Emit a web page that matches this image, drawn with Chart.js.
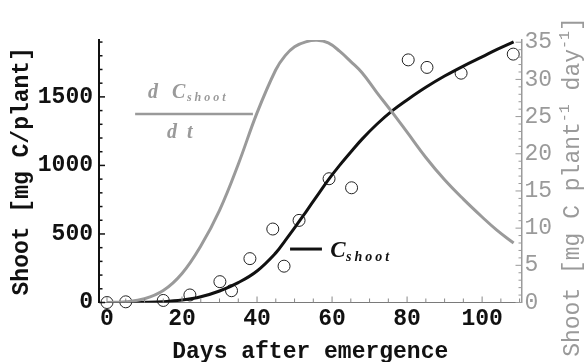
<!DOCTYPE html>
<html>
<head>
<meta charset="utf-8">
<script src="https://cdn.jsdelivr.net/npm/chart.js@4.4.0/dist/chart.umd.min.js"></script>
<style>
  body { margin: 0; background: #fff; }
  #wrap { width: 586px; height: 362px; }
</style>
</head>
<body>
<div id="wrap"><canvas id="shootChart" width="586" height="362"></canvas></div>
<script>
const curveDays = [0, 5, 10, 15, 20, 25, 30, 35, 40, 45, 47.5, 50, 53, 56, 59, 62, 65, 68, 72, 76, 80, 85, 90, 95, 100, 104, 108.4];
// fitted C_shoot, mg C/plant (left axis)
const shootFit = [0, 0.3, 1.5, 6, 18, 42, 84, 145, 230, 362, 452, 545, 660, 778, 895, 1000, 1098, 1192, 1302, 1398, 1478, 1570, 1652, 1725, 1792, 1846, 1901];
// fitted dC_shoot/dt, mg C plant-1 day-1 (right axis)
const growthRate = [0, 0.1, 0.5, 1.6, 3.9, 7.6, 12.4, 18.6, 25.5, 31.3, 33.2, 34.4, 35.05, 35.25, 34.9, 33.8, 32.4, 30.9, 28.2, 25.6, 22.9, 19.5, 16.5, 13.9, 11.5, 9.7, 8.0];
// measured shoot carbon
const obsDays = [0, 5, 15, 22.1, 30.1, 33.2, 38.1, 44.2, 47.2, 51.2, 59.2, 65.2, 80.3, 85.3, 94.4, 108.3];
const obsShoot = [0, 5, 15, 55, 152, 86, 320, 536, 265, 599, 903, 837, 1770, 1715, 1673, 1812];

const dayTicks = [0, 20, 40, 60, 80, 100];
const shootTicks = [0, 500, 1000, 1500];
const rateTicks = [0, 5, 10, 15, 20, 25, 30, 35];

const GRAY = '#9a9a9a';
const INK = '#111';
const MONO = "'Liberation Mono', 'Courier New', monospace";
const SERIF = "'Liberation Serif', 'Times New Roman', serif";

// tick marks point into the plot, with minor ticks between labels
const inwardTicks = {
  id: 'inwardTicks',
  afterDraw(chart) {
    const { ctx: c, chartArea: a, scales: { x, y, y2 } } = chart;
    const seg = (x1, y1, x2, y2_) => { c.beginPath(); c.moveTo(x1, y1); c.lineTo(x2, y2_); c.stroke(); };
    c.save();
    c.strokeStyle = INK; c.lineWidth = 1.5;
    for (let v = 0; v <= 1900; v += 100) {
      const p = y.getPixelForValue(v);
      seg(a.left, p, a.left + (v % 500 === 0 ? 6 : 3.5), p);
    }
    c.strokeStyle = '#888'; c.lineWidth = 1;
    for (let v = 0; v <= 110; v += 5) {
      const p = x.getPixelForValue(v);
      seg(p, a.bottom, p, a.bottom - (v % 20 === 0 ? 6 : 4));
    }
    c.strokeStyle = GRAY;
    for (let v = 0; v <= 35; v += 1) {
      const p = y2.getPixelForValue(v);
      seg(a.right, p, a.right - (v % 5 === 0 ? 6 : 3), p);
    }
    c.restore();
  }
};

// curve labels: the dC/dt fraction and the C_shoot key
const curveLabels = {
  id: 'curveLabels',
  afterDatasetsDraw(chart) {
    const { ctx: c, scales: { x, y } } = chart;
    const px = v => x.getPixelForValue(v);
    const py = v => y.getPixelForValue(v);
    c.save();
    c.textBaseline = 'alphabetic';
    c.textAlign = 'left';

    c.fillStyle = GRAY;
    c.strokeStyle = GRAY;
    c.font = `italic bold 20px ${SERIF}`;
    c.fillText('d', px(10.9), py(1493));
    c.fillText('C', px(17.3), py(1493));
    c.font = `italic bold 12px ${SERIF}`;
    c.letterSpacing = '3px';
    c.fillText('shoot', px(21.3), py(1471));
    c.letterSpacing = '0px';
    c.lineWidth = 2.5;
    c.beginPath(); c.moveTo(px(7.5), py(1376)); c.lineTo(px(38.9), py(1376)); c.stroke();
    c.font = `italic bold 20px ${SERIF}`;
    c.fillText('d', px(16.0), py(1203));
    c.fillText('t', px(21.3), py(1203));

    c.fillStyle = INK;
    c.strokeStyle = INK;
    c.lineWidth = 3;
    c.beginPath(); c.moveTo(px(48.8), py(390)); c.lineTo(px(57.3), py(390)); c.stroke();
    c.font = `italic bold 23px ${SERIF}`;
    c.fillText('C', px(59.5), py(332));
    c.font = `italic bold 14px ${SERIF}`;
    c.letterSpacing = '3px';
    c.fillText('shoot', px(63.7), py(303));
    c.restore();
  }
};

// right axis title reads bottom to top, with superscripts
const rightTitle = {
  id: 'rightTitle',
  afterDraw(chart) {
    const c = chart.ctx;
    const parts = [['Shoot [mg C plant', false], ['-1', true], [' day', false], ['-1', true], [']', false]];
    const base = `23px ${MONO}`, sup = `15px ${MONO}`;
    let total = 0;
    parts.forEach(([t, s]) => { c.font = s ? sup : base; total += c.measureText(t).width; });
    c.save();
    c.translate(chart.width - 13, 187);
    c.rotate(-Math.PI / 2);
    c.fillStyle = GRAY;
    c.textBaseline = 'middle';
    c.textAlign = 'left';
    let cx = -total / 2;
    parts.forEach(([t, s]) => {
      c.font = s ? sup : base;
      c.fillText(t, cx, s ? -8 : 0);
      cx += c.measureText(t).width;
    });
    c.restore();
  }
};

const plain = v => String(v);
const ctx = document.getElementById('shootChart').getContext('2d');

new Chart(ctx, {
  data: {
    datasets: [{
      type: 'line',
      label: 'dC_shoot/dt',
      data: curveDays.map((d, i) => ({ x: d, y: growthRate[i] })),
      yAxisID: 'y2',
      borderColor: GRAY,
      borderWidth: 3,
      pointRadius: 0,
      tension: 0.4,
      fill: false
    }, {
      type: 'line',
      label: 'C_shoot',
      data: curveDays.map((d, i) => ({ x: d, y: shootFit[i] })),
      yAxisID: 'y',
      borderColor: INK,
      borderWidth: 3,
      pointRadius: 0,
      tension: 0.4,
      fill: false
    }, {
      type: 'scatter',
      label: 'measured',
      data: obsDays.map((d, i) => ({ x: d, y: obsShoot[i] })),
      yAxisID: 'y',
      pointRadius: 6,
      pointBorderWidth: 1,
      pointBorderColor: '#222',
      pointBackgroundColor: 'rgba(0,0,0,0)',
      clip: false
    }]
  },
  options: {
    responsive: false,
    animation: false,
    devicePixelRatio: 1,
    layout: { padding: { top: 40, left: 0, right: 0, bottom: 0 } },
    plugins: { legend: { display: false }, tooltip: { enabled: false } },
    scales: {
      x: {
        type: 'linear',
        min: -2.13,
        max: 110.5,
        afterBuildTicks: s => { s.ticks = dayTicks.map(v => ({ value: v })); },
        afterFit: s => { s.height = 59.5; },
        grid: { display: false, drawTicks: false },
        border: { display: true, color: '#7a7a7a', width: 1 },
        ticks: { color: INK, padding: 3, maxRotation: 0, callback: plain, font: { family: MONO, size: 23, weight: 'bold' } },
        title: {
          display: true, text: 'Days after emergence', color: INK,
          font: { family: MONO, size: 23, weight: 'bold', lineHeight: 1 },
          padding: { top: 0, bottom: -1.5 }
        }
      },
      y: {
        type: 'linear',
        position: 'left',
        min: 0,
        max: 1915,
        afterBuildTicks: s => { s.ticks = shootTicks.map(v => ({ value: v })); },
        afterFit: s => { s.width = 99; },
        grid: { display: false, drawTicks: false },
        border: { display: true, color: INK, width: 2 },
        ticks: { color: INK, padding: 6, callback: plain, font: { family: MONO, size: 23, weight: 'bold' } },
        title: {
          display: true, text: 'Shoot [mg C/plant]', color: INK,
          font: { family: MONO, size: 23, weight: 'bold', lineHeight: 1 },
          padding: { top: 10.5, bottom: 0 }
        }
      },
      y2: {
        type: 'linear',
        position: 'right',
        min: 0,
        max: 35.3,
        afterBuildTicks: s => { s.ticks = rateTicks.map(v => ({ value: v })); },
        afterFit: s => { s.width = 64.5; },
        grid: { display: false, drawTicks: false },
        border: { display: true, color: GRAY, width: 1.5 },
        ticks: { color: GRAY, padding: 3, callback: plain, font: { family: MONO, size: 23 } }
      }
    }
  },
  plugins: [inwardTicks, curveLabels, rightTitle]
});
</script>
</body>
</html>
